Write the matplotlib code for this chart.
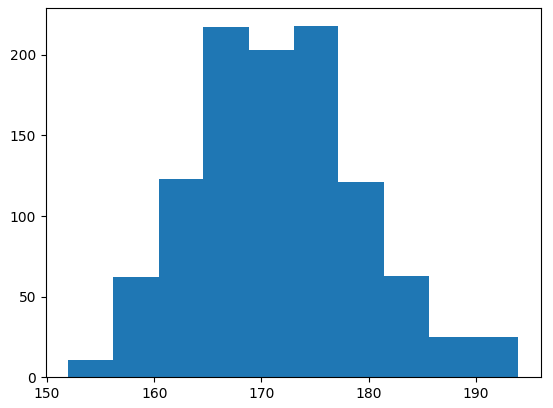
import numpy as np
import matplotlib
matplotlib.use('Agg')
from matplotlib import pyplot as plt

# bin edges and counts
bin_edges = [152.0, 156.2, 160.4, 164.6, 168.8, 173.0, 177.2, 181.4, 185.6, 189.8, 194.0]
counts = [11, 62, 123, 217, 203, 218, 121, 63, 25, 25]

centers = [(a + b) / 2 for a, b in zip(bin_edges[:-1], bin_edges[1:])]

fig = plt.figure(figsize=(5.53, 4.08), dpi=100)
fig.subplots_adjust(left=46 / 553, right=541 / 553, bottom=(408 - 377.3) / 408, top=(408 - 8.3) / 408)
ax = fig.add_subplot(111)

# stepfilled draws one polygon, so no hairline gaps between bins
ax.hist(centers, bins=bin_edges, weights=counts, histtype='stepfilled', color='C0')

fig.savefig('out.png', dpi=100)
